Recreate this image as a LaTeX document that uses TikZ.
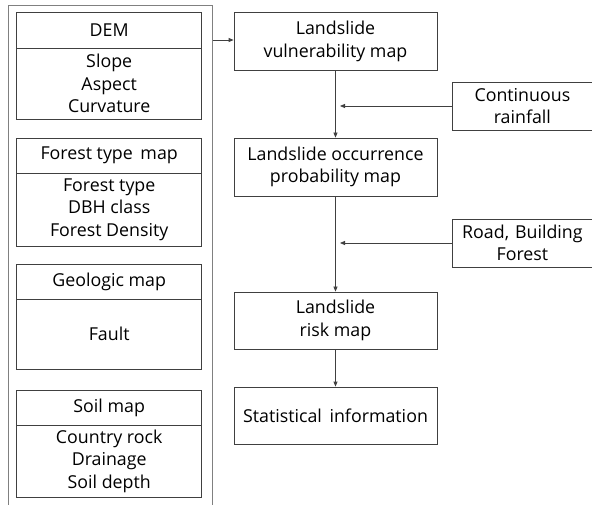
\documentclass[tikz,border=0pt]{standalone}
\usepackage{fontspec}
\setmainfont{Open Sans}
\usetikzlibrary{arrows.meta}
\begin{document}
\begin{tikzpicture}[x=1pt,y=-1pt,
  font=\fontsize{17.8}{22.3}\selectfont,
  box/.style={draw=black!75, line width=0.8pt, rectangle, inner sep=0pt, align=center},
  outerbox/.style={draw=black!50, line width=1pt, rectangle, inner sep=0pt},
  conn/.style={draw=black!75, line width=0.8pt},
  arr/.style={conn, -{Triangle[length=5pt,width=4pt]}}]
\clip (0,0) rectangle (592,505);
\fill[white] (0,0) rectangle (592,505);
% outer container
\node[outerbox, minimum width=204pt, minimum height=510pt] (outer) at (110,261) {};
% DEM
\node[box, minimum width=185pt, minimum height=35.3pt] (demh) at (109.2,30.3) {DEM};
\node[box, minimum width=185pt, minimum height=71pt] (demb) at (109.2,83.5) {Slope\\Aspect\\Curvature};
% Forest
\node[box, minimum width=185pt, minimum height=35pt] (forh) at (109.2,155.5) {Forest type\, map};
\node[box, minimum width=185pt, minimum height=73pt] (forb) at (109.2,209.5) {Forest type\\DBH class\\Forest Density};
% Geologic
\node[box, minimum width=185pt, minimum height=35pt] (geoh) at (109.2,281.5) {Geologic map};
\node[box, minimum width=185pt, minimum height=70pt] (geob) at (109.2,334) {Fault};
% Soil
\node[box, minimum width=185pt, minimum height=35.7pt] (soih) at (109.2,407.9) {Soil map};
\node[box, minimum width=185pt, minimum height=71.3pt] (soib) at (109.2,461.3) {Country rock\\Drainage\\Soil depth};
% right column
\node[box, minimum width=203pt, minimum height=57.3pt] (vul) at (335.5,41.3) {Landslide\\vulnerability map};
\node[box, minimum width=203pt, minimum height=58pt] (occ) at (335.5,167) {Landslide occurrence\\probability map};
\node[box, minimum width=203pt, minimum height=57pt] (risk) at (335.5,320.5) {Landslide\\risk map};
\node[box, minimum width=203pt, minimum height=57pt] (stat) at (335.5,415.5) {Statistical\, information};
% side inputs
\node[box, minimum width=160pt, minimum height=48pt, text width=140pt, anchor=west] (rain) at (452,106) {\hspace*{-20pt}Continuous\\\hspace*{-20pt}rainfall};
\node[box, minimum width=160pt, minimum height=48pt, text width=140pt, anchor=west] (road) at (452,243) {\hspace*{-20pt}Road, Building\\\hspace*{-20pt}Forest};
\coordinate (rainend) at (340,106);
\coordinate (roadend) at (340,243);
% connectors
\draw[arr] (outer.east |- 0,40) -- (vul.west |- 0,40);
\draw[arr] (vul) -- (occ);
\draw[arr] (occ) -- (risk);
\draw[arr] (risk) -- (stat);
\draw[arr] (rain.west) -- (rainend);
\draw[arr] (road.west) -- (roadend);
\end{tikzpicture}
\end{document}
